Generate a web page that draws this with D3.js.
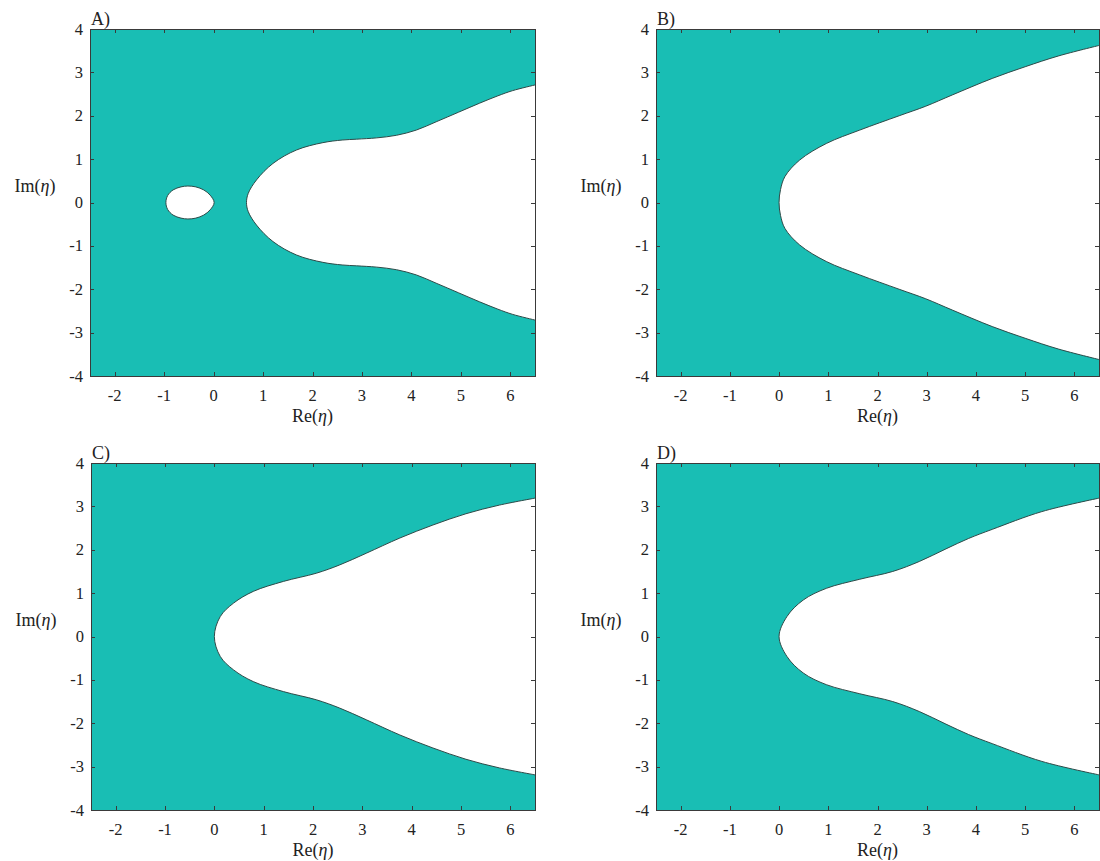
<!DOCTYPE html>
<html>
<head>
<meta charset="utf-8">
<script src="https://cdn.jsdelivr.net/npm/d3@7"></script>
<style>
  html, body { margin: 0; padding: 0; background: #fff; }
  svg { display: block; font-family: "Liberation Serif", "Times New Roman", serif; }
</style>
</head>
<body>
<svg id="chart" width="1100" height="861"></svg>
<script>
// Axis ticks shared by all four panels
const xTicks = [-2, -1, 0, 1, 2, 3, 4, 5, 6];
const yTicks = [-4, -3, -2, -1, 0, 1, 2, 3, 4];
const xDomain = [-2.5, 6.5];
const yDomain = [-4, 4];

const panelNames = ["A)", "B)", "C)", "D)"];

// Upper half of the stability boundary (Re, Im); the lower half is its mirror image
const reA = [0.665, 0.70, 0.867, 1.20, 1.675, 2.21, 2.60, 2.89, 3.30, 3.70, 4.10, 4.50, 4.95, 5.38, 5.75, 6.05, 6.5];
const imA = [0.00, 0.21, 0.52, 0.90, 1.21, 1.38, 1.44, 1.46, 1.49, 1.55, 1.67, 1.86, 2.08, 2.29, 2.46, 2.58, 2.71];

const reB = [0.00, 0.03, 0.12, 0.42, 0.96, 1.64, 2.44, 2.98, 3.52, 4.33, 5.00, 5.68, 6.5];
const imB = [0.00, 0.30, 0.60, 0.98, 1.36, 1.67, 2.00, 2.22, 2.48, 2.86, 3.13, 3.38, 3.62];

const reC = [0.00, 0.12, 0.39, 0.79, 1.40, 2.07, 2.54, 3.08, 3.76, 4.43, 5.10, 5.78, 6.5];
const imC = [0.00, 0.46, 0.77, 1.04, 1.27, 1.46, 1.65, 1.92, 2.27, 2.57, 2.83, 3.03, 3.19];

const reD = [0.00, 0.16, 0.49, 0.96, 1.64, 2.31, 2.85, 3.39, 3.85, 4.33, 5.34, 6.5];
const imD = [0.00, 0.46, 0.84, 1.11, 1.32, 1.50, 1.73, 2.02, 2.26, 2.47, 2.88, 3.19];

// Closed unstable island of panel A (upper half, mirrored below)
const reIslandA = [-0.965, -0.93, -0.82, -0.66, -0.52, -0.36, -0.20, -0.07, 0.011];
const imIslandA = [0.00, 0.16, 0.29, 0.36, 0.38, 0.36, 0.29, 0.17, 0.00];

const fillColor = "#19beb4";
const edgeColor = "#2e4a48";
const axisColor = "#3a3a3a";
const textColor = "#222222";

const panels = [
  { name: panelNames[0], left: 90,  right: 535,  top: 29,  bottom: 376, re: reA, im: imA, islandRe: reIslandA, islandIm: imIslandA },
  { name: panelNames[1], left: 656, right: 1099, top: 29,  bottom: 376, re: reB, im: imB },
  { name: panelNames[2], left: 91,  right: 535,  top: 463, bottom: 810, re: reC, im: imC },
  { name: panelNames[3], left: 656, right: 1099, top: 463, bottom: 810, re: reD, im: imD }
];

const svg = d3.select("#chart");

// Build a closed loop: lower half from the far end to the tip, then upper half back out
function mirroredLoop(re, im) {
  const upper = re.map((r, i) => [r, im[i]]);
  const lower = upper.slice(1).reverse().map(([r, v]) => [r, -v]);
  return lower.concat(upper);
}

panels.forEach((p, idx) => {
  const x = d3.scaleLinear().domain(xDomain).range([p.left, p.right]);
  const y = d3.scaleLinear().domain(yDomain).range([p.bottom, p.top]);
  const g = svg.append("g");

  const clipId = "clip" + idx;
  g.append("clipPath").attr("id", clipId)
    .append("rect")
    .attr("x", p.left).attr("y", p.top)
    .attr("width", p.right - p.left).attr("height", p.bottom - p.top);

  const plot = g.append("g").attr("clip-path", `url(#${clipId})`);

  // Stable region: the whole plane shaded
  plot.append("rect")
    .attr("x", p.left).attr("y", p.top)
    .attr("width", p.right - p.left).attr("height", p.bottom - p.top)
    .attr("fill", fillColor);

  const line = d3.line()
    .x(d => x(d[0])).y(d => y(d[1]))
    .curve(d3.curveCatmullRom.alpha(0.5));

  // Unstable region to the right of the boundary
  const loop = mirroredLoop(p.re, p.im);
  plot.append("path")
    .attr("d", line(loop) + "Z")
    .attr("fill", "#ffffff")
    .attr("stroke", "none");
  plot.append("path")
    .attr("d", line(loop))
    .attr("fill", "none")
    .attr("stroke", edgeColor)
    .attr("stroke-width", 1);

  // Isolated unstable island
  if (p.islandRe) {
    const islandLoop = mirroredLoop(p.islandRe, p.islandIm);
    plot.append("path")
      .attr("d", d3.line().x(d => x(d[0])).y(d => y(d[1]))
        .curve(d3.curveCatmullRomClosed.alpha(0.5))(islandLoop.slice(0, -1)))
      .attr("fill", "#ffffff")
      .attr("stroke", edgeColor)
      .attr("stroke-width", 1);
  }

  // Box and inward ticks on all four sides
  const tickLen = 4;
  const axes = g.append("g").attr("stroke", axisColor).attr("stroke-width", 1)
    .attr("fill", "none").attr("shape-rendering", "crispEdges");
  axes.append("rect")
    .attr("x", p.left).attr("y", p.top)
    .attr("width", p.right - p.left).attr("height", p.bottom - p.top);
  xTicks.forEach(t => {
    const xp = Math.round(x(t)) + 0.5;
    axes.append("line").attr("x1", xp).attr("x2", xp).attr("y1", p.bottom).attr("y2", p.bottom - tickLen);
    axes.append("line").attr("x1", xp).attr("x2", xp).attr("y1", p.top).attr("y2", p.top + tickLen);
  });
  yTicks.forEach(t => {
    const yp = Math.round(y(t)) + 0.5;
    axes.append("line").attr("y1", yp).attr("y2", yp).attr("x1", p.left).attr("x2", p.left + tickLen);
    axes.append("line").attr("y1", yp).attr("y2", yp).attr("x1", p.right).attr("x2", p.right - tickLen);
  });

  // Tick labels
  const labels = g.append("g").attr("fill", textColor).attr("font-size", 16.5);
  xTicks.forEach(t => {
    labels.append("text")
      .attr("x", x(t)).attr("y", p.bottom + 25)
      .attr("text-anchor", "middle")
      .text(String(t));
  });
  yTicks.forEach(t => {
    labels.append("text")
      .attr("x", p.left - 7).attr("y", y(t))
      .attr("dy", "0.34em")
      .attr("text-anchor", "end")
      .text(String(t));
  });

  // Axis titles
  const xl = g.append("text")
    .attr("x", (p.left + p.right) / 2).attr("y", p.bottom + 46)
    .attr("text-anchor", "middle").attr("font-size", 18).attr("fill", textColor);
  xl.append("tspan").text("Re(");
  xl.append("tspan").attr("font-style", "italic").text("η");
  xl.append("tspan").text(")");

  const yl = g.append("text")
    .attr("x", p.left - 55).attr("y", y(0) - 11)
    .attr("text-anchor", "middle").attr("font-size", 18).attr("fill", textColor);
  yl.append("tspan").text("Im(");
  yl.append("tspan").attr("font-style", "italic").text("η");
  yl.append("tspan").text(")");

  // Panel letter
  g.append("text")
    .attr("x", p.left + 1).attr("y", p.top - 4)
    .attr("font-size", 18).attr("fill", textColor)
    .text(p.name);
});
</script>
</body>
</html>
